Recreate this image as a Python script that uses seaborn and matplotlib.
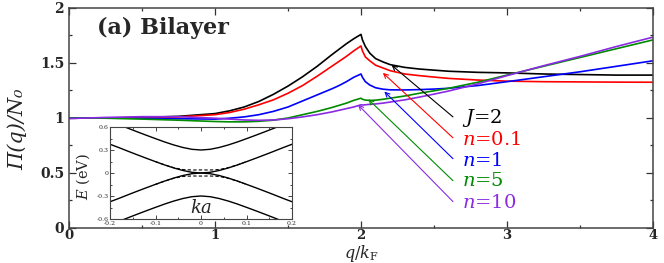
import matplotlib
matplotlib.use("Agg")
import matplotlib.pyplot as plt
from matplotlib.ticker import MultipleLocator
import seaborn as sns
import pandas as pd

# main panel: polarization vs q/kF, one series per curve
q = [0, 0.25, 0.5, 0.75, 1.0, 1.1, 1.2, 1.3, 1.4, 1.5, 1.6, 1.7, 1.8, 1.85, 1.9, 1.95, 2.0,
     2.01, 2.03, 2.06, 2.1, 2.15, 2.2, 2.3, 2.4, 2.5, 2.6, 2.8, 3.0, 3.25, 3.5, 3.75, 4.0]
pi_J2 = [1.0, 1.0, 1.005, 1.015, 1.04, 1.065, 1.10, 1.15, 1.215, 1.29, 1.375, 1.47, 1.575, 1.625, 1.675, 1.72, 1.76,
         1.71, 1.65, 1.59, 1.54, 1.51, 1.485, 1.46, 1.445, 1.435, 1.425, 1.415, 1.41, 1.40, 1.395, 1.39, 1.39]
pi_n01 = [1.0, 1.0, 1.003, 1.01, 1.03, 1.05, 1.08, 1.12, 1.165, 1.225, 1.295, 1.38, 1.47, 1.515, 1.56, 1.61, 1.655,
          1.61, 1.555, 1.52, 1.48, 1.455, 1.43, 1.40, 1.385, 1.372, 1.36, 1.345, 1.335, 1.33, 1.328, 1.326, 1.325]
pi_n1 = [1.0, 1.0, 0.998, 0.993, 0.99, 0.998, 1.01, 1.03, 1.06, 1.10, 1.155, 1.21, 1.265, 1.295, 1.33, 1.37, 1.40,
         1.37, 1.33, 1.30, 1.275, 1.262, 1.256, 1.255, 1.258, 1.263, 1.27, 1.295, 1.33, 1.375, 1.42, 1.47, 1.52]
pi_n5 = [1.0, 0.998, 0.99, 0.98, 0.968, 0.965, 0.965, 0.97, 0.98, 1.0, 1.03, 1.06, 1.095, 1.115, 1.135, 1.16, 1.18,
         1.17, 1.163, 1.16, 1.162, 1.17, 1.18, 1.20, 1.225, 1.247, 1.27, 1.325, 1.39, 1.47, 1.55, 1.63, 1.71]
pi_n10 = [0.995, 1.005, 1.012, 1.012, 0.998, 0.99, 0.982, 0.979, 0.982, 0.993, 1.01, 1.03, 1.055, 1.07, 1.085, 1.10, 1.12,
          1.118, 1.12, 1.124, 1.128, 1.135, 1.145, 1.165, 1.19, 1.217, 1.245, 1.31, 1.385, 1.475, 1.56, 1.65, 1.735]

series_names = ["J=2", "n=0.1", "n=1", "n=5", "n=10"]
series_labels = [r"$J$=2", r"$n$=0.1", r"$n$=1", r"$n$=5", r"$n$=10"]
series_colors = ["#000000", "#ff0000", "#0000ff", "#008b00", "#8a2be2"]

xtick_labels = ["0", "1", "2", "3", "4"]
ytick_labels = ["0", "0.5", "1", "1.5", "2"]

# inset: bilayer band structure E(k)
k = [-0.2, -0.18, -0.16, -0.14, -0.12, -0.1, -0.08, -0.06, -0.04, -0.02, 0.0,
     0.02, 0.04, 0.06, 0.08, 0.1, 0.12, 0.14, 0.16, 0.18, 0.2]
e_outer_up = [0.675, 0.63, 0.583, 0.537, 0.492, 0.448, 0.405, 0.366, 0.333, 0.309, 0.30,
              0.309, 0.333, 0.366, 0.405, 0.448, 0.492, 0.537, 0.583, 0.63, 0.675]
e_inner_up = [0.375, 0.33, 0.283, 0.237, 0.192, 0.148, 0.105, 0.066, 0.033, 0.009, 0.0,
              0.009, 0.033, 0.066, 0.105, 0.148, 0.192, 0.237, 0.283, 0.33, 0.375]
e_inner_dn = [-0.375, -0.33, -0.283, -0.237, -0.192, -0.148, -0.105, -0.066, -0.033, -0.009, 0.0,
              -0.009, -0.033, -0.066, -0.105, -0.148, -0.192, -0.237, -0.283, -0.33, -0.375]
e_outer_dn = [-0.675, -0.63, -0.583, -0.537, -0.492, -0.448, -0.405, -0.366, -0.333, -0.309, -0.30,
              -0.309, -0.333, -0.366, -0.405, -0.448, -0.492, -0.537, -0.583, -0.63, -0.675]
# gapped low-energy bands (dashed)
k_gap = [-0.1, -0.08, -0.06, -0.04, -0.02, 0.0, 0.02, 0.04, 0.06, 0.08, 0.1]
e_gap_up = [0.149, 0.106, 0.07, 0.045, 0.039, 0.04, 0.039, 0.045, 0.07, 0.106, 0.149]
e_gap_dn = [-0.149, -0.106, -0.07, -0.045, -0.039, -0.04, -0.039, -0.045, -0.07, -0.106, -0.149]

sns.set_style("ticks")
plt.rcParams["font.family"] = ["DejaVu Serif"]
plt.rcParams["mathtext.fontset"] = "custom"
plt.rcParams["mathtext.rm"] = "DejaVu Serif"
plt.rcParams["mathtext.it"] = "DejaVu Serif:italic"
plt.rcParams["axes.unicode_minus"] = False

frames = []
for name, vals in zip(series_names, [pi_J2, pi_n01, pi_n1, pi_n5, pi_n10]):
    frames.append(pd.DataFrame({"q": q, "Pi": vals, "series": name}))
df = pd.concat(frames, ignore_index=True)

fig = plt.figure(figsize=(6.64, 2.63), dpi=100)
ax = fig.add_axes([0.1039, 0.1331, 0.8795, 0.8365])

sns.lineplot(data=df, x="q", y="Pi", hue="series", hue_order=series_names,
             palette=series_colors, estimator=None, sort=False, legend=False,
             linewidth=1.2, ax=ax)

ax.set_xlim(0, 4)
ax.set_ylim(0, 2)
ax.set_xticks([0, 1, 2, 3, 4])
ax.set_xticklabels(xtick_labels, fontweight="bold", fontsize=9.5)
ax.set_yticks([0, 0.5, 1, 1.5, 2])
ax.set_yticklabels(ytick_labels, fontweight="bold", fontsize=10)
ax.xaxis.set_minor_locator(MultipleLocator(0.5))
ax.yaxis.set_minor_locator(MultipleLocator(0.25))
ax.tick_params(which="both", direction="in", top=True, right=True, width=0.9, color="#333333")
ax.tick_params(which="major", length=5)
ax.tick_params(which="minor", length=2.5)
ax.tick_params(axis="x", pad=1)
for sp in ax.spines.values():
    sp.set_linewidth(1.1)
    sp.set_color("#444444")

ax.set_xlabel(r"$q/k_\mathrm{F}$", fontsize=11.5)
ax.xaxis.set_label_coords(0.5, -0.067)
ax.set_ylabel("Π(q)/N₀", fontsize=15, fontstyle="italic")
ax.yaxis.set_label_coords(-0.072, 0.45)

ax.text(0.048, 0.909, "(a) Bilayer", transform=ax.transAxes, fontsize=16,
        fontweight="bold", ha="left", va="center")

# arrows from labels to the curves
heads = [(2.21, 1.48), (2.15, 1.41), (2.16, 1.24), (2.05, 1.17), (1.98, 1.12)]
tails = [(2.63, 1.01), (2.63, 0.82), (2.63, 0.63), (2.63, 0.43), (2.63, 0.24)]
label_y = [1.0, 0.80, 0.61, 0.43, 0.23]
for lab, c, hd, tl, ly in zip(series_labels, series_colors, heads, tails, label_y):
    ax.annotate("", xy=hd, xytext=tl,
                arrowprops=dict(arrowstyle="->", color=c, lw=0.8,
                                shrinkA=0, shrinkB=0, mutation_scale=8))
    ax.text(2.69, ly, lab, color=c, fontsize=14, ha="left", va="center")

# inset
axin = fig.add_axes([0.1657, 0.1673, 0.2741, 0.3498])
axin.set_facecolor("white")
for band in [e_outer_up, e_inner_up, e_inner_dn, e_outer_dn]:
    sns.lineplot(x=k, y=band, color="black", linewidth=1.0, sort=False,
                 estimator=None, ax=axin)
for band in [e_gap_up, e_gap_dn]:
    axin.plot(k_gap, band, color="black", linewidth=0.8, linestyle=(0, (3, 2)))
axin.set_xlim(-0.2, 0.2)
axin.set_ylim(-0.6, 0.6)
axin.set_xticks([-0.2, -0.1, 0, 0.1, 0.2])
axin.set_xticklabels(["-0.2", "-0.1", "0", "0.1", "0.2"], fontsize=4.5)
axin.set_yticks([-0.6, -0.3, 0, 0.3, 0.6])
axin.set_yticklabels(["-0.6", "-0.3", "0", "0.3", "0.6"], fontsize=4.5)
axin.xaxis.set_minor_locator(MultipleLocator(0.05))
axin.yaxis.set_minor_locator(MultipleLocator(0.15))
axin.tick_params(which="both", direction="in", top=True, right=True, width=0.6)
axin.tick_params(axis="x", pad=1.5)
axin.tick_params(axis="y", pad=1)
axin.tick_params(which="major", length=3)
axin.tick_params(which="minor", length=1.5)
for sp in axin.spines.values():
    sp.set_linewidth(0.8)
    sp.set_color("#444444")
axin.set_xlabel("")
axin.set_ylabel("$E$ (eV)", fontsize=10.5)
axin.yaxis.set_label_coords(-0.1, 0.46)
axin.text(0.5, 0.02, "$ka$", transform=axin.transAxes, fontsize=13,
          ha="center", va="bottom")

fig.savefig("out.png", dpi=100)
